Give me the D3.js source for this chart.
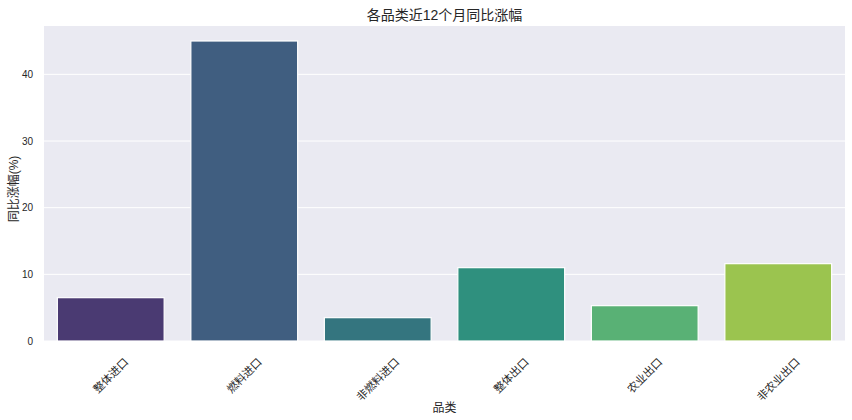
<!DOCTYPE html>
<html>
<head>
<meta charset="utf-8">
<script src="https://cdn.jsdelivr.net/npm/d3@7"></script>
<style>
  body { margin: 0; background: #fff; }
  text { font-family: "Liberation Sans", Arial, "Noto Sans CJK SC", sans-serif; fill: #262626; }
</style>
</head>
<body>
<div id="chart"></div>
<script>
var categories = ["整体进口", "燃料进口", "非燃料进口", "整体出口", "农业出口", "非农业出口"];
var values = [6.5, 45.0, 3.5, 11.0, 5.3, 11.6];
var colors = ["#4a3a72", "#405e80", "#34757f", "#2f907e", "#59b175", "#9bc44f"];
var yTicks = [0, 10, 20, 30, 40];

var width = 852,
  height = 420;
var plotLeft = 44, plotRight = 845, plotTop = 26, plotBottom = 341;

var svg = d3.select("#chart").append("svg")
  .attr("width", width)
  .attr("height", height);

var x = d3.scaleBand()
  .domain(categories)
  .range([plotLeft, plotRight])
  .paddingInner(0.2)
  .paddingOuter(0.1);

var y = d3.scaleLinear()
  .domain([0, d3.max(values) * 1.05])
  .range([plotBottom, plotTop]);

// background
svg.append("rect")
  .attr("x", plotLeft)
  .attr("y", plotTop)
  .attr("width", plotRight - plotLeft)
  .attr("height", plotBottom - plotTop)
  .style("fill", "#eaeaf2");

// grid
svg.append("g")
  .selectAll("line")
  .data(yTicks)
  .join("line")
  .attr("x1", plotLeft)
  .attr("x2", plotRight)
  .attr("y1", d => y(d))
  .attr("y2", d => y(d))
  .style("stroke", "#ffffff")
  .style("stroke-width", 1);

// bars
svg.append("g")
  .selectAll("rect")
  .data(values)
  .join("rect")
  .attr("x", (d, i) => x(categories[i]))
  .attr("y", d => y(d))
  .attr("width", x.bandwidth())
  .attr("height", d => y(0) - y(d))
  .style("fill", (d, i) => colors[i])
  .style("stroke", "#ffffff")
  .style("stroke-width", 1.2);

// y axis
var yAxis = svg.append("g")
  .attr("transform", "translate(" + plotLeft + ",0)")
  .call(d3.axisLeft(y).tickValues(yTicks).tickSize(0).tickPadding(11));
yAxis.select(".domain").remove();
yAxis.selectAll("text")
  .style("font-size", "10px")
  .style("font-family", "'Liberation Sans', Arial, sans-serif")
  .attr("fill", "#262626");

// x tick labels, rotated 45 and centred on the tick like matplotlib
var fs = 11;
svg.append("g")
  .selectAll("text")
  .data(categories)
  .join("text")
  .text(d => d)
  .style("font-size", fs + "px")
  .attr("text-anchor", "middle")
  .attr("dominant-baseline", "central")
  .attr("transform", function(d) {
    var w = this.getComputedTextLength();
    var bh = (w + fs) * Math.SQRT1_2;
    var cx = x(d) + x.bandwidth() / 2;
    var cy = plotBottom + 15 + bh / 2;
    return "translate(" + cx + "," + cy + ") rotate(-45)";
  });

// title
svg.append("text")
  .text("各品类近12个月同比涨幅")
  .attr("x", (plotLeft + plotRight) / 2)
  .attr("y", 15)
  .attr("text-anchor", "middle")
  .attr("dominant-baseline", "central")
  .style("font-size", "14px");

// axis labels
svg.append("text")
  .text("品类")
  .attr("x", (plotLeft + plotRight) / 2)
  .attr("y", 408)
  .attr("text-anchor", "middle")
  .attr("dominant-baseline", "central")
  .style("font-size", "12px");

svg.append("text")
  .text("同比涨幅(%)")
  .attr("transform", "translate(13.5,189) rotate(-90)")
  .attr("text-anchor", "middle")
  .attr("dominant-baseline", "central")
  .style("font-size", "12px");
</script>
</body>
</html>
